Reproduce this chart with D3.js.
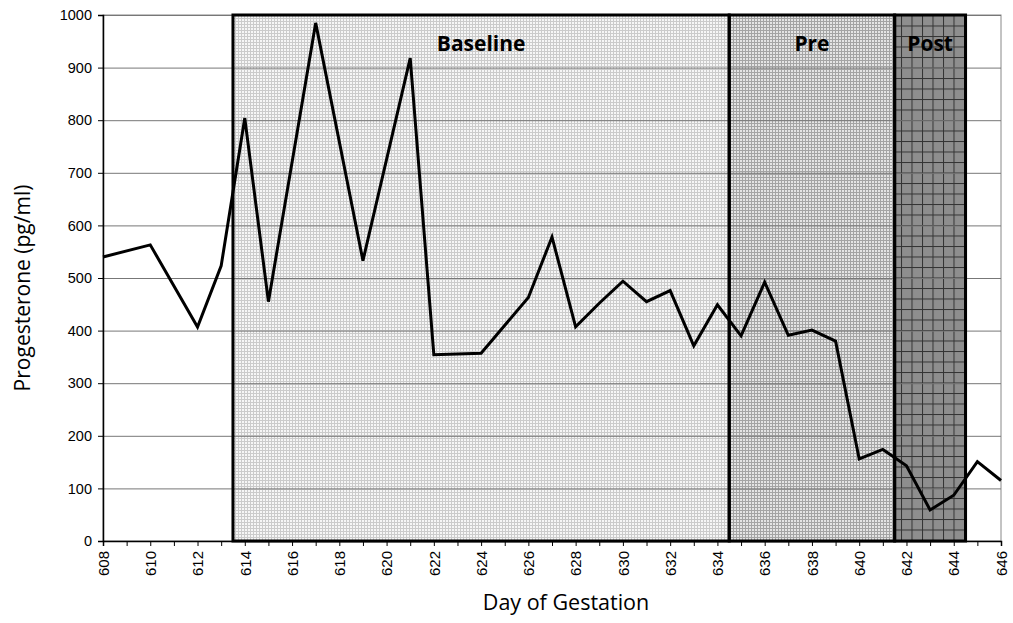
<!DOCTYPE html>
<html>
<head>
<meta charset="utf-8">
<script src="https://cdn.jsdelivr.net/npm/d3@7"></script>
<style>
  body { margin: 0; background: #fff; }
</style>
</head>
<body>
<div id="chart"></div>
<script>
// Data
const days = [608, 610, 612, 613, 614, 615, 617, 619, 621, 622, 624, 626, 627, 628, 629, 630,
  631, 632, 633, 634, 635, 636, 637, 638, 639, 640, 641, 642, 643, 644, 645, 646]
const progesterone = [540, 563, 407, 523, 804, 455, 985, 533, 918, 354, 357, 463, 578, 407, 452, 494,
  455, 476, 371, 449, 390, 492, 391, 401, 380, 156, 174, 143, 59, 87, 151, 115]
const phaseNames = ['Baseline', 'Pre', 'Post']
const phaseStart = [613.5, 634.5, 641.5]
const phaseEnd = [634.5, 641.5, 644.5]
const yTicks = [0, 100, 200, 300, 400, 500, 600, 700, 800, 900, 1000]

;(() => {
  const width = 1013
  const height = 623
  const margin = { top: 15, right: 12, bottom: 82, left: 103 }
  const innerWidth = width - margin.left - margin.right
  const innerHeight = height - margin.top - margin.bottom
  const titleFont = '"Open Sans", "Noto Sans", sans-serif'
  const tickFont = '"Liberation Sans", Arial, sans-serif'

  const svg = d3.select('#chart').append('svg')
    .attr('width', width)
    .attr('height', height)

  // Fill patterns for the three phases
  const defs = svg.append('defs')
  const p1 = defs.append('pattern').attr('id', 'pat-base')
    .attr('patternUnits', 'userSpaceOnUse').attr('width', 3).attr('height', 3)
  p1.append('rect').attr('width', 3).attr('height', 3).attr('fill', '#f6f6f6')
  p1.append('rect').attr('width', 3).attr('height', 1).attr('fill', '#cbcbcb')
  p1.append('rect').attr('width', 1).attr('height', 3).attr('fill', '#cbcbcb')

  const p2 = defs.append('pattern').attr('id', 'pat-pre')
    .attr('patternUnits', 'userSpaceOnUse').attr('width', 3).attr('height', 3)
  p2.append('rect').attr('width', 3).attr('height', 3).attr('fill', '#e4e4e4')
  p2.append('rect').attr('width', 3).attr('height', 1).attr('fill', '#a4a4a4')
  p2.append('rect').attr('width', 1).attr('height', 3).attr('fill', '#a4a4a4')

  const p3 = defs.append('pattern').attr('id', 'pat-post')
    .attr('patternUnits', 'userSpaceOnUse').attr('width', 10.5).attr('height', 10.5)
  p3.append('rect').attr('width', 10.5).attr('height', 10.5).attr('fill', '#8e8e8e')
  p3.append('rect').attr('width', 10.5).attr('height', 1).attr('fill', '#333')
  p3.append('rect').attr('width', 1).attr('height', 10.5).attr('fill', '#333')

  const g = svg.append('g')
    .attr('transform', `translate(${margin.left}, ${margin.top})`)

  const x = d3.scaleLinear().domain([608, 646]).range([0, innerWidth])
  const y = d3.scaleLinear().domain([0, 1000]).range([innerHeight, 0])

  // Plot frame (gray right edge)
  g.append('rect')
    .attr('width', innerWidth)
    .attr('height', innerHeight)
    .attr('fill', '#fff')
    .attr('stroke', '#888')
    .attr('stroke-width', 1)

  // Phase rectangles
  const fills = ['url(#pat-base)', 'url(#pat-pre)', 'url(#pat-post)']
  g.selectAll('.phase')
    .data(phaseNames)
    .join('rect')
    .attr('class', 'phase')
    .attr('x', (d, i) => x(phaseStart[i]))
    .attr('y', y(1000))
    .attr('width', (d, i) => x(phaseEnd[i]) - x(phaseStart[i]))
    .attr('height', y(0) - y(1000))
    .attr('fill', (d, i) => fills[i])

  // Y gridlines
  g.append('g')
    .call(d3.axisLeft(y).tickValues(yTicks).tickSize(-innerWidth).tickFormat(''))
    .call(s => s.select('.domain').remove())
    .call(s => s.selectAll('line').attr('stroke', '#777').attr('stroke-width', 1))

  // Phase borders
  g.selectAll('.phase-border')
    .data(phaseNames)
    .join('rect')
    .attr('class', 'phase-border')
    .attr('x', (d, i) => x(phaseStart[i]))
    .attr('y', y(1000))
    .attr('width', (d, i) => x(phaseEnd[i]) - x(phaseStart[i]))
    .attr('height', y(0) - y(1000))
    .attr('fill', 'none')
    .attr('stroke', '#000')
    .attr('stroke-width', 3)

  // Phase labels
  g.selectAll('.phase-label')
    .data(phaseNames)
    .join('text')
    .attr('class', 'phase-label')
    .attr('x', (d, i) => (x(phaseStart[i]) + x(phaseEnd[i])) / 2)
    .attr('y', 36)
    .attr('text-anchor', 'middle')
    .style('font-family', titleFont)
    .style('font-weight', 'bold')
    .style('font-size', '21px')
    .attr('fill', '#000')
    .text(d => d)

  // Data line
  const line = d3.line()
    .x((d, i) => x(days[i]))
    .y(d => y(d))
  g.append('path')
    .datum(progesterone)
    .attr('fill', 'none')
    .attr('stroke', '#000')
    .attr('stroke-width', 3)
    .attr('stroke-linejoin', 'miter')
    .attr('d', line)

  // Left axis
  g.append('g')
    .call(d3.axisLeft(y).tickValues(yTicks).tickSize(5).tickPadding(6).tickFormat(d3.format('d')))
    .call(s => s.select('.domain').attr('stroke', '#000').attr('stroke-width', 1.5))
    .call(s => s.selectAll('text')
      .style('font-family', tickFont)
      .style('font-size', '14.5px')
      .attr('fill', '#000'))

  // Bottom axis: minor ticks each day, labels every 2 days
  g.append('g')
    .attr('transform', `translate(0, ${innerHeight})`)
    .call(d3.axisBottom(x).tickValues(d3.range(608, 647, 1)).tickSize(5).tickFormat(''))
    .call(s => s.select('.domain').attr('stroke', '#000').attr('stroke-width', 1.5))

  g.append('g')
    .attr('transform', `translate(0, ${innerHeight})`)
    .call(d3.axisBottom(x).tickValues(d3.range(608, 647, 2)).tickSize(0).tickFormat(d3.format('d')))
    .call(s => s.select('.domain').remove())
    .call(s => s.selectAll('text')
      .style('font-family', tickFont)
      .style('font-size', '15px')
      .attr('fill', '#000')
      .attr('transform', 'rotate(-90)')
      .attr('text-anchor', 'end')
      .attr('x', -10)
      .attr('y', 0)
      .attr('dy', '0.35em'))

  // Axis titles
  svg.append('text')
    .attr('transform', `translate(30, 288) rotate(-90)`)
    .attr('text-anchor', 'middle')
    .style('font-family', titleFont)
    .style('font-size', '21px')
    .text('Progesterone (pg/ml)')

  svg.append('text')
    .attr('x', 566)
    .attr('y', 610)
    .attr('text-anchor', 'middle')
    .style('font-family', titleFont)
    .style('font-size', '21.5px')
    .text('Day of Gestation')
})()
</script>
</body>
</html>
